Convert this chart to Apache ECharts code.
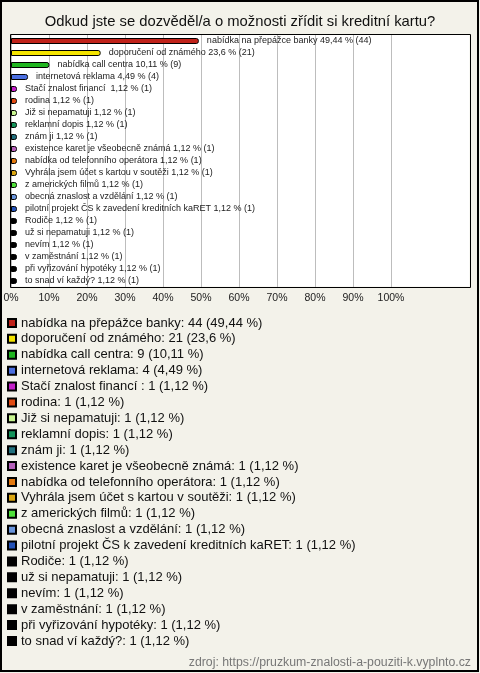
<!DOCTYPE html>
<html><head><meta charset="utf-8">
<script src="https://cdn.jsdelivr.net/npm/echarts@6/dist/echarts.min.js"></script>
<style>html,body{margin:0;padding:0;background:#f3f2ea}#c{width:480px;height:673px}</style>
</head><body><div id="c"></div>
<script>
const titleText = 'Odkud jste se dozvěděl/a o možnosti zřídit si kreditní kartu?';
const sourceText = 'zdroj: https://pruzkum-znalosti-a-pouziti-k.vyplnto.cz';
const categories = [
  'nabídka na přepážce banky',
  'doporučení od známého',
  'nabídka call centra',
  'internetová reklama',
  'Stačí znalost financí ',
  'rodina',
  'Již si nepamatuji',
  'reklamní dopis',
  'znám ji',
  'existence karet je všeobecně známá',
  'nabídka od telefonního operátora',
  'Vyhrála jsem účet s kartou v soutěži',
  'z amerických filmů',
  'obecná znaslost a vzdělání',
  'pilotní projekt ČS k zavedení kreditních kaRET',
  'Rodiče',
  'už si nepamatuji',
  'nevím',
  'v zaměstnání',
  'při vyřizování hypotéky',
  'to snad ví každý?'
];
const counts = [44,21,9,4,1,1,1,1,1,1,1,1,1,1,1,1,1,1,1,1,1];
const percents = [49.44,23.6,10.11,4.49,1.12,1.12,1.12,1.12,1.12,1.12,1.12,1.12,1.12,1.12,1.12,1.12,1.12,1.12,1.12,1.12,1.12];
const colors = ['#c0221a','#f4e400','#1fb51f','#4a6ee0','#c21fc8','#e04a12','#c8f590','#14935a','#22707e','#b45fb8','#e2780e','#dca712','#4fe03a','#6a95dc','#2352b8','#000','#000','#000','#000','#000','#000'];
const xTicks = [0,10,20,30,40,50,60,70,80,90,100];

const fmt = v => String(v).replace('.', ',');
const chart = echarts.init(document.getElementById('c'), null, {renderer:'canvas'});
const series = categories.map((name, i) => ({
  type: 'bar', name, stack: 'all', barWidth: 6, barMinHeight: 6,
  data: categories.map((_, j) => j === i ? percents[i] : '-'),
  itemStyle: {color: colors[i], borderColor: '#000', borderWidth: 1, borderRadius: [0,2,2,0]},
  label: {show: true, position: 'right', distance: 8,
    formatter: name + ' ' + fmt(percents[i]) + ' % (' + counts[i] + ')',
    fontSize: 9, color: '#222', fontFamily: 'Liberation Sans'},
  z: 5
}));
chart.setOption({
  animation: false,
  backgroundColor: '#f3f2ea',
  title: {text: titleText, left: 'center', top: 9,
    textStyle: {fontSize: 14.8, fontWeight: 'normal', color: '#111', fontFamily: 'Liberation Sans'}},
  graphic: [
    {type: 'rect', z: -10, shape: {x: 1, y: 1, width: 477, height: 670}, style: {fill: 'none', stroke: '#000', lineWidth: 2}},
    {type: 'rect', z: -5, shape: {x: 10.5, y: 34.5, width: 459, height: 252}, style: {fill: '#fff', stroke: 'none'}},
    {type: 'rect', z: 100, shape: {x: 10.5, y: 34.5, width: 460, height: 253}, style: {fill: 'none', stroke: '#000', lineWidth: 1}},
    {type: 'text', z: 100, right: 9, top: 657, style: {text: sourceText, fontSize: 12.3, fill: '#777', fontFamily: 'Liberation Sans'}}
  ],
  grid: {left: 11, top: 35, width: 380, height: 252, containLabel: false},
  xAxis: {type: 'value', min: xTicks[0], max: xTicks[xTicks.length-1], interval: 10,
    axisLine: {show: false}, axisTick: {show: false},
    splitLine: {show: true, lineStyle: {color: '#bdbdbd', width: 1}},
    axisLabel: {formatter: '{value}%', fontSize: 10.5, color: '#222', margin: 6, fontFamily: 'Liberation Sans'}},
  yAxis: {type: 'category', data: categories, inverse: true,
    axisLine: {show: false}, axisTick: {show: false}, axisLabel: {show: false}, splitLine: {show: false}},
  legend: {orient: 'vertical', left: 7, top: 315, itemWidth: 8, itemHeight: 8, itemGap: 0, icon: 'rect',
    padding: 0,
    data: categories,
    formatter: name => { const i = categories.indexOf(name); return name + ': ' + counts[i] + ' (' + fmt(percents[i]) + ' %)'; },
    textStyle: {fontSize: 13, color: '#111', lineHeight: 15.9, fontFamily: 'Liberation Sans'}},
  series
});
</script></body></html>
